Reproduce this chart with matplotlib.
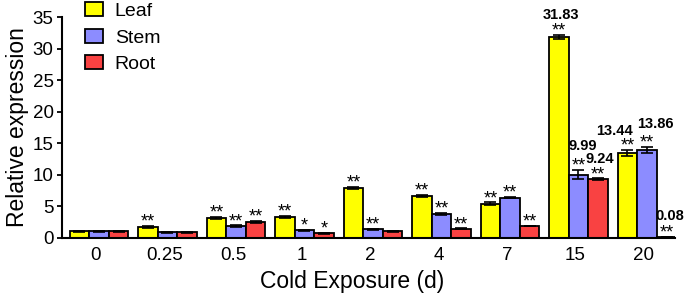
import numpy as np
import matplotlib.pyplot as plt
import matplotlib.transforms as mtransforms

plt.rcParams['font.family'] = ['Liberation Sans', 'DejaVu Sans']

days = ['0', '0.25', '0.5', '1', '2', '4', '7', '15', '20']
leaf = [1.0, 1.65, 3.1, 3.25, 7.85, 6.65, 5.4, 31.83, 13.44]
stem = [1.0, 0.85, 1.85, 1.15, 1.3, 3.8, 6.35, 9.99, 13.86]
root = [1.0, 0.85, 2.45, 0.7, 1.0, 1.4, 1.85, 9.24, 0.08]
leaf_err = [0.1, 0.15, 0.2, 0.2, 0.15, 0.15, 0.2, 0.35, 0.45]
stem_err = [0.05, 0.1, 0.1, 0.05, 0.1, 0.15, 0.1, 0.75, 0.5]
root_err = [0.05, 0.05, 0.15, 0.1, 0.1, 0.05, 0.05, 0.15, 0.02]
leaf_sig = ['', '**', '**', '**', '**', '**', '**', '**', '**']
stem_sig = ['', '', '**', '*', '**', '**', '**', '**', '**']
root_sig = ['', '', '**', '*', '', '**', '**', '**', '**']
# numbers printed above the last two groups
leaf_num = ['', '', '', '', '', '', '', '31.83', '13.44']
stem_num = ['', '', '', '', '', '', '', '9.99', '13.86']
root_num = ['', '', '', '', '', '', '', '9.24', '0.08']

# label nudges (points) for the printed numbers, keyed by text
nudge = {'31.83': (1.5, 11.5), '9.99': (3, 14.5), '9.24': (1.5, 11),
         '13.44': (-9, 11), '13.86': (6, 14), '0.08': (2.5, 12.5)}

fig = plt.figure(figsize=(6.85, 3.0), dpi=100)
ax = fig.add_axes([0.0905, 0.208, 0.895, 0.735])

x = np.arange(len(days))
w = 0.285
series = [(leaf, leaf_err, leaf_sig, leaf_num, '#FFFF00', 'Leaf', -w),
          (stem, stem_err, stem_sig, stem_num, '#8C8CFF', 'Stem', 0),
          (root, root_err, root_sig, root_num, '#F94242', 'Root', w)]

for vals, err, sig, num, col, lab, off in series:
    ax.bar(x + off, vals, w, color=col, edgecolor='black', linewidth=1.3, label=lab,
           yerr=err, error_kw=dict(ecolor='black', elinewidth=1.2, capsize=4, capthick=1.2))
    for i in range(len(days)):
        top = vals[i] + err[i]
        if sig[i]:
            ax.annotate(sig[i], (x[i] + off, top), xytext=(0, -0.5), textcoords='offset points',
                        ha='center', va='baseline', fontsize=13)
        if num[i]:
            dx, dy = nudge[num[i]]
            ax.annotate(num[i], (x[i] + off, top), xytext=(dx, dy), textcoords='offset points',
                        ha='center', va='baseline', fontsize=10.5, fontweight='bold')

ax.set_xlim(-0.54, 8.41)
ax.set_ylim(0, 35)
ax.set_yticks(range(0, 36, 5))
ax.set_xticks(x)
ax.set_xticklabels(days)
ax.tick_params(axis='y', labelsize=13.5, width=1.3, length=3.5, pad=2.5)
ax.tick_params(axis='x', labelsize=13.5, length=0, pad=7)
shift = mtransforms.ScaledTranslation(-3 / 100, 0, fig.dpi_scale_trans)
for t in ax.get_xticklabels():
    t.set_transform(t.get_transform() + shift)
for s in ['top', 'right']:
    ax.spines[s].set_visible(False)
for s in ['left', 'bottom']:
    ax.spines[s].set_linewidth(1.5)
ax.set_ylabel('Relative expression', fontsize=16.5)
ax.set_xlabel('Cold Exposure (d)', fontsize=16.5)
ax.yaxis.set_label_coords(-0.073, 0.5)
ax.xaxis.set_label_coords(0.473, -0.2)
ax.xaxis.label.set_va('center')
ax.yaxis.label.set_va('center')
ax.legend(loc='upper left', bbox_to_anchor=(0.124, 0.992), bbox_transform=fig.transFigure,
          frameon=False, fontsize=14, borderpad=0, borderaxespad=0,
          handlelength=0.93, handleheight=0.72, handletextpad=0.6, labelspacing=0.45)

fig.savefig('out.png', dpi=100)
